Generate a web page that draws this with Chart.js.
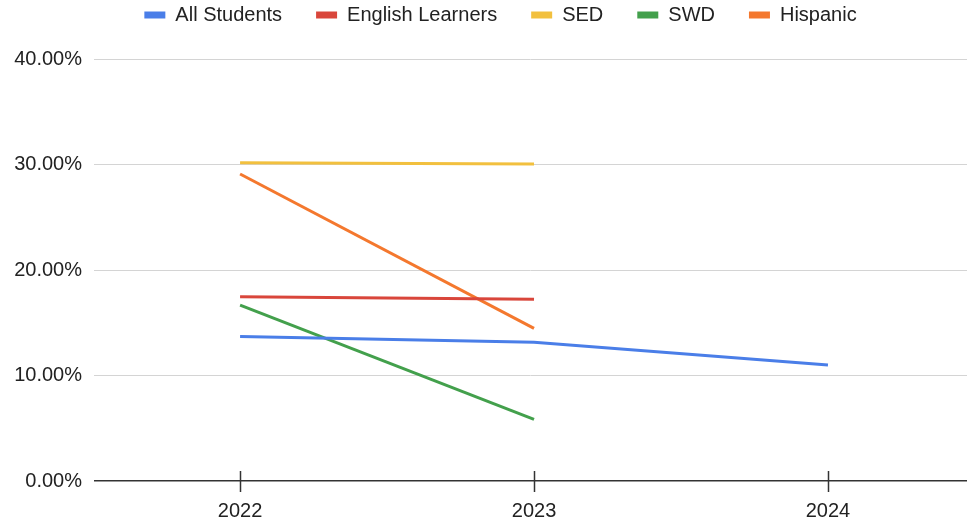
<!DOCTYPE html>
<html>
<head>
<meta charset="utf-8">
<script src="https://cdn.jsdelivr.net/npm/chart.js@4"></script>
<style>
  html, body { margin: 0; padding: 0; background: #fff; }
  #wrap { width: 967px; height: 521px; }
</style>
</head>
<body>
<div id="wrap"><canvas id="chart"></canvas></div>
<script>
// years on the x axis
const years = [2022, 2023, 2024];

// percent values per group (null = no data)
const allStudents = [13.7, 13.15, 11.0];
const englishLearners = [17.47, 17.22, null];
const sed = [30.17, 30.05, null];
const swd = [16.68, 5.85, null];
const hispanic = [29.1, 14.47, null];

const yTicks = [0, 10, 20, 30, 40];

const seriesNames = ["All Students", "English Learners", "SED", "SWD", "Hispanic"];
const seriesColors = ["#4a7ee8", "#d9463b", "#f2c03e", "#43a04c", "#f4782e"];
const seriesValues = [allStudents, englishLearners, sed, swd, hispanic];

// build {x, y} points from the arrays above
const datasets = seriesNames.map((name, i) => ({
    label: name,
    data: years.map((yr, j) => ({ x: yr, y: seriesValues[i][j] })),
    borderColor: seriesColors[i],
    backgroundColor: seriesColors[i],
    borderWidth: 3,
    pointRadius: 0,
    tension: 0
}));

// small tick marks crossing the x axis line
const crossTicks = {
    id: "crossTicks",
    afterLayout(chart) {
        // nudge the legend a bit to the right, like the original
        chart.legend.left += 34;
    },
    afterDraw(chart) {
        const ctx = chart.ctx;
        const x = chart.scales.x;
        const bottom = chart.chartArea.bottom;
        ctx.save();
        ctx.strokeStyle = "#333";
        ctx.lineWidth = 1.5;
        x.ticks.forEach(t => {
            const px = Math.round(x.getPixelForValue(t.value)) + 0.5;
            ctx.beginPath();
            ctx.moveTo(px, bottom - 10);
            ctx.lineTo(px, bottom + 11);
            ctx.stroke();
        });
        ctx.restore();
    }
};

const fontFamily = "'Liberation Sans', Arial, sans-serif";

new Chart(document.getElementById("chart"), {
    type: "line",
    data: { datasets: datasets },
    plugins: [crossTicks],
    options: {
        responsive: true,
        maintainAspectRatio: false,
        animation: false,
        layout: { padding: { top: -29, left: 0, right: 0, bottom: 0 } },
        plugins: {
            tooltip: { enabled: false },
            // empty title used only as a spacer between legend and plot
            title: {
                display: true,
                text: "",
                weight: 500,
                font: { size: 1, lineHeight: 1 },
                padding: { top: 0, bottom: 23 }
            },
            legend: {
                position: "top",
                labels: {
                    boxWidth: 21,
                    boxHeight: 7,
                    padding: 34,
                    color: "#222",
                    font: { family: fontFamily, size: 20 },
                    generateLabels: chart =>
                        Chart.defaults.plugins.legend.labels.generateLabels(chart)
                            .map(l => Object.assign(l, { lineWidth: 0 }))
                }
            }
        },
        scales: {
            x: {
                type: "linear",
                min: 2021.503,
                max: 2024.473,
                grid: { display: false, drawTicks: false },
                border: { display: false },
                afterFit: scale => { scale.height = 40; },
                afterBuildTicks: scale => {
                    scale.ticks = years.map(v => ({ value: v }));
                },
                ticks: {
                    color: "#222",
                    padding: 20,
                    font: { family: fontFamily, size: 20, lineHeight: 1 },
                    callback: v => String(v)
                }
            },
            y: {
                min: 0,
                max: 40,
                afterFit: scale => { scale.width = 94; },
                afterBuildTicks: scale => {
                    scale.ticks = yTicks.map(v => ({ value: v }));
                },
                grid: {
                    drawTicks: false,
                    color: ctx => ctx.tick && ctx.tick.value === 0 ? "#333" : "#d4d4d4",
                    lineWidth: ctx => ctx.tick && ctx.tick.value === 0 ? 1.5 : 1
                },
                border: { display: false },
                ticks: {
                    color: "#222",
                    padding: 12,
                    font: { family: fontFamily, size: 20 },
                    callback: v => v.toFixed(2) + "%"
                }
            }
        }
    }
});
</script>
</body>
</html>
